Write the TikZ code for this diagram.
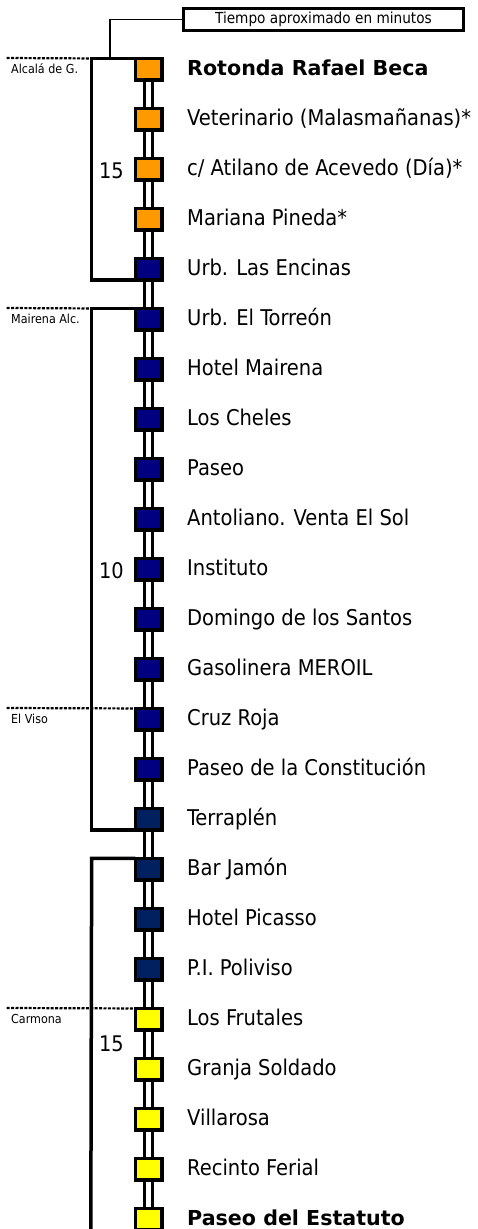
\documentclass[tikz,border=0pt]{standalone}
\usepackage{fontspec}
\setmainfont{DejaVu Sans Condensed}[BoldFont={DejaVu Sans Bold}, BoldFeatures={Scale=0.95}]
\usetikzlibrary{positioning,backgrounds}
\definecolor{lineaOrange}{HTML}{FF9900}
\definecolor{lineaNavy}{HTML}{000080}
\definecolor{lineaDark}{HTML}{002060}
\definecolor{lineaYellow}{HTML}{FFFF00}

\tikzset{
  parada/.style={draw, line width=3.5pt, minimum width=26.5pt, minimum height=21.5pt, inner sep=0pt, outer sep=0pt},
  nombre/.style={anchor=base west, inner sep=0pt, font=\fontsize{21.7}{24}\selectfont},
  tramo/.style={line width=3.5pt},
  limite/.style={line width=2.2pt, dash pattern=on 3pt off 1.4pt},
  pueblo/.style={anchor=base west, inner sep=0pt, font=\fontsize{12.4}{14}\selectfont},
  minutos/.style={anchor=base east, inner sep=0pt, font=\fontsize{21.5}{24}\selectfont}
}

\begin{document}
\begin{tikzpicture}[x=1pt, y=-1pt]
\useasboundingbox (0,0) rectangle (478,1229);
% paradas
\foreach \i/\col/\txt in {
  0/lineaOrange/{\textbf{Rotonda Rafael Beca}},
  1/lineaOrange/{Veterinario (Malasmañanas)*},
  2/lineaOrange/{c/ Atilano de Acevedo (Día)*},
  3/lineaOrange/{Mariana Pineda*},
  4/lineaNavy/{Urb. Las Encinas},
  5/lineaNavy/{Urb. El Torreón},
  6/lineaNavy/{Hotel Mairena},
  7/lineaNavy/{Los Cheles},
  8/lineaNavy/{Paseo},
  9/lineaNavy/{Antoliano. Venta El Sol},
  10/lineaNavy/{Instituto},
  11/lineaNavy/{Domingo de los Santos},
  12/lineaNavy/{Gasolinera MEROIL},
  13/lineaNavy/{Cruz Roja},
  14/lineaNavy/{Paseo de la Constitución},
  15/lineaDark/{Terraplén},
  16/lineaDark/{Bar Jamón},
  17/lineaDark/{Hotel Picasso},
  18/lineaDark/{P.I. Poliviso},
  19/lineaYellow/{Los Frutales},
  20/lineaYellow/{Granja Soldado},
  21/lineaYellow/{Villarosa},
  22/lineaYellow/{Recinto Ferial},
  23/lineaYellow/{\textbf{Paseo del Estatuto}}}{
  \node[parada, fill=\col] (s\i) at (148.5, 69.2+50*\i) {};
  \node[nombre] (t\i) at ([xshift=38.5pt, yshift=-6pt]s\i.center) {\txt};
}

\node[draw, line width=2.6pt, minimum width=280.5pt, minimum height=22.5pt, inner sep=0pt, font=\fontsize{15.2}{18}\selectfont] (tiempo) at (323.5,19.5) {Tiempo aproximado en minutos};

\node[pueblo] (alcala) at (11, 73.7) {Alcalá de G.};
\node[pueblo] (mairena) at (11, 323.7) {Mairena Alc.};
\node[pueblo] (viso) at (11, 723.7) {El Viso};
\node[pueblo] (carmona) at (11, 1023.7) {Carmona};

\node[minutos] (m1) at (124, 178.2) {15};
\node[minutos] (m2) at (124, 578.2) {10};
\node[minutos] (m3) at (124, 1051.7) {15};

\coordinate (brA) at ([xshift=-43.6pt]s0.north west);
\coordinate (brB) at ([xshift=-43.6pt]s5.north west);
\coordinate (brC) at ([xshift=-43.6pt]s16.north west);
\coordinate (fin) at (90.8, 1240);
\coordinate (nota) at (110, 58);

\begin{scope}[on background layer]
  \draw[line width=3.5pt, double=white, double distance=4.6pt] (s0.center) -- ([yshift=-30pt]s23.center);
  \draw[tramo] (s0.north west) -- (brA) |- (s4.south west);
  \draw[tramo] (s5.north west) -- (brB) |- (s15.south west);
  \draw[tramo] (s16.north west) -- (brC) -- (fin);
  \draw[line width=1.3pt] (tiempo.west) -| (nota);
  \draw[limite] (6.7, 58) -- (brA);
  \draw[limite] (6.7, 308) -- (brB);
  \draw[limite] (6.7, 708) -- (s13.north west);
  \draw[limite] (6.7, 1008) -- (s19.north west);
\end{scope}
\end{tikzpicture}
\end{document}
